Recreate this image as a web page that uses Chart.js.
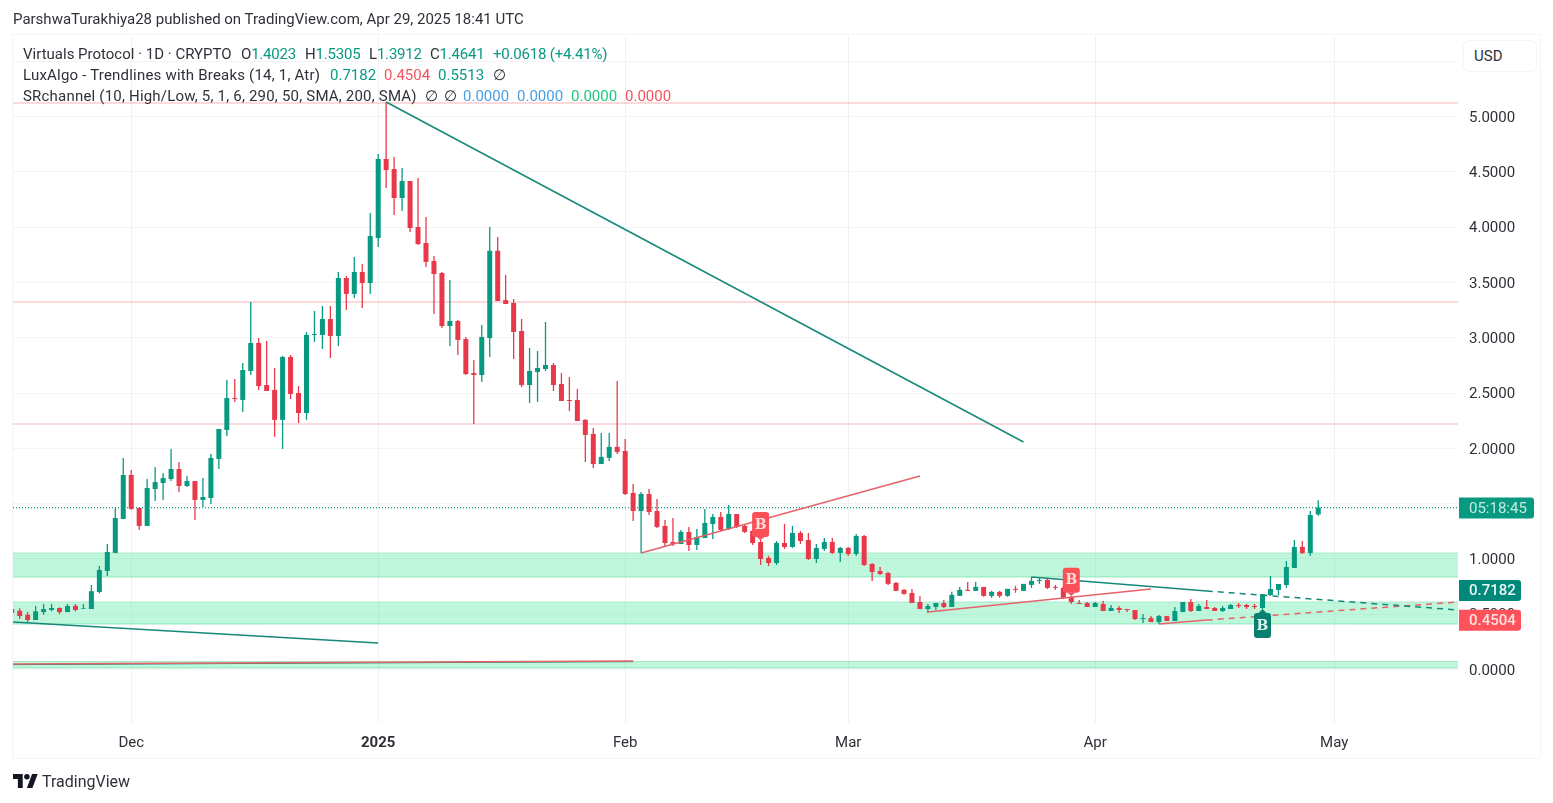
<!DOCTYPE html>
<html>
<head>
<meta charset="utf-8">
<title>Virtuals Protocol</title>
<script src="https://cdn.jsdelivr.net/npm/chart.js@4/dist/chart.umd.min.js"></script>
<style>
  html, body { margin: 0; padding: 0; background: #fff; }
  body { width: 1553px; height: 803px; position: relative; overflow: hidden; font-family: Roboto, sans-serif; color: #2e3138; }
  canvas { position: absolute; left: 0; top: 0; }
  .frame { position: absolute; left: 12px; top: 34px; width: 1527px; height: 723px; border: 1px solid #f3f4f6; }
  .t { position: absolute; font-size: 15px; line-height: 18px; white-space: nowrap; }
  .w { letter-spacing: 0.2px; }
  .n { letter-spacing: -0.2px; }
  .g { color: #089981; } .r { color: #f2545f; } .b { color: #4a9fe3; } .m { color: #1fc77f; }
  .usd { position: absolute; left: 1463px; top: 40px; width: 72px; height: 30px; border: 1px solid #f3f4f6; border-radius: 6px; font-size: 15px; line-height: 30px; text-indent: 10px; background: #fff; }
  .logo { position: absolute; left: 13px; top: 774px; }
</style>
</head>
<body>
<div class="frame"></div>
<canvas id="candles" width="1553" height="803"></canvas>

<div class="t" style="left:13px;top:10px">ParshwaTurakhiya28 published on TradingView.com, Apr 29, 2025 18:41 UTC</div>

<div class="t" style="left:23px;top:45px">Virtuals Protocol · 1D · CRYPTO</div>
<div class="t n" style="left:241px;top:45px">O<span class="g">1.4023</span></div>
<div class="t n" style="left:305px;top:45px">H<span class="g">1.5305</span></div>
<div class="t n" style="left:369px;top:45px">L<span class="g">1.3912</span></div>
<div class="t n" style="left:430px;top:45px">C<span class="g">1.4641</span></div>
<div class="t g n" style="left:493px;top:45px">+0.0618 (+4.41%)</div>

<div class="t w" style="left:23px;top:66px">LuxAlgo - Trendlines with Breaks (14, 1, Atr)</div>
<div class="t g" style="left:330px;top:66px">0.7182</div>
<div class="t r" style="left:384px;top:66px">0.4504</div>
<div class="t g" style="left:438px;top:66px">0.5513</div>
<div class="t" style="left:493px;top:66px">∅</div>

<div class="t w" style="left:23px;top:87px">SRchannel (10, High/Low, 5, 1, 6, 290, 50, SMA, 200, SMA)</div>
<div class="t" style="left:425px;top:87px">∅</div>
<div class="t" style="left:444px;top:87px">∅</div>
<div class="t b" style="left:463px;top:87px">0.0000</div>
<div class="t b" style="left:517px;top:87px">0.0000</div>
<div class="t m" style="left:571px;top:87px">0.0000</div>
<div class="t r" style="left:625px;top:87px">0.0000</div>

<div class="usd">USD</div>

<svg class="logo" width="25" height="14" viewBox="0 0 36 20"><path fill="#131722" d="M14 20H7V7H0V0h14v20zM28 20h-8L27.500 0h8L28 20z"/><circle fill="#131722" cx="20" cy="4" r="4"/></svg>
<div class="t" style="left:42px;top:772px;font-size:16px;line-height:20px">TradingView</div>

<script>
// x axis is days counted from Dec 1 2024
const firstDay = -15;
const tickDays = [0, 31, 62, 90, 121, 151];
const tickLabels = ['Dec', '2025', 'Feb', 'Mar', 'Apr', 'May'];
const priceTicks = [0, 0.5, 1, 1.5, 2, 2.5, 3, 3.5, 4, 4.5, 5, 5.5];

const opens = [
  0.547, 0.531, 0.495, 0.447, 0.519, 0.538, 0.556, 0.519, 0.576, 0.547,
  0.547, 0.701, 0.891, 1.054, 1.361, 1.759, 1.461, 1.298, 1.632, 1.686,
  1.722, 1.813, 1.659, 1.704, 1.533, 1.551, 1.904, 2.166, 2.455, 2.437,
  2.699, 2.952, 2.572, 2.527, 2.257, 2.826, 2.500, 2.319, 3.025, 3.025,
  3.169, 3.016, 3.540, 3.396, 3.594, 3.495, 3.901, 4.616, 4.525, 4.263,
  4.417, 4.001, 3.856, 3.694, 3.585, 3.106, 3.151, 2.988, 2.681, 2.663,
  2.997, 3.786, 3.341, 3.314, 3.061, 2.572, 2.690, 2.717, 2.753, 2.581,
  2.437, 2.437, 2.257, 2.130, 1.858, 1.913, 2.013, 1.976, 1.596, 1.433,
  1.587, 1.433, 1.298, 1.153, 1.135, 1.244, 1.126, 1.189, 1.316, 1.379,
  1.271, 1.406, 1.298, 1.253, 1.153, 1.009, 0.963, 1.144, 1.108, 1.235,
  1.171, 0.999, 1.090, 1.153, 1.054, 1.099, 1.045, 1.207, 0.954, 0.891,
  0.873, 0.783, 0.720, 0.692, 0.610, 0.547, 0.565, 0.601, 0.565, 0.666,
  0.720, 0.711, 0.747, 0.666, 0.702, 0.666, 0.729, 0.711, 0.765, 0.801,
  0.810, 0.747, 0.738, 0.657, 0.601, 0.601, 0.565, 0.592, 0.529, 0.556,
  0.547, 0.538, 0.456, 0.465, 0.429, 0.483, 0.438, 0.519, 0.610, 0.529,
  0.565, 0.556, 0.529, 0.547, 0.583, 0.583, 0.574, 0.556, 0.673, 0.719,
  0.764, 0.918, 1.108, 1.054, 1.4023
];
const highs = [
  0.556, 0.553, 0.519, 0.574, 0.592, 0.592, 0.562, 0.592, 0.592, 0.592,
  0.765, 0.936, 1.135, 1.461, 1.913, 1.804, 1.461, 1.722, 1.831, 1.777,
  1.994, 1.876, 1.750, 1.704, 1.731, 1.949, 2.175, 2.618, 2.627, 2.771,
  3.323, 2.997, 2.970, 2.726, 2.835, 2.844, 2.563, 3.052, 3.242, 3.287,
  3.287, 3.594, 3.558, 3.729, 3.666, 4.127, 4.661, 5.131, 4.634, 4.534,
  4.417, 4.444, 4.091, 3.739, 3.594, 3.522, 3.160, 3.007, 2.798, 3.115,
  4.001, 3.910, 3.567, 3.350, 3.169, 2.907, 2.879, 3.142, 2.771, 2.681,
  2.645, 2.536, 2.266, 2.184, 2.139, 2.139, 2.609, 2.085, 1.677, 1.605,
  1.632, 1.542, 1.352, 1.370, 1.262, 1.289, 1.271, 1.452, 1.406, 1.424,
  1.487, 1.406, 1.316, 1.262, 1.171, 1.027, 1.162, 1.316, 1.298, 1.253,
  1.235, 1.135, 1.189, 1.189, 1.108, 1.108, 1.226, 1.216, 0.963, 0.927,
  0.882, 0.792, 0.729, 0.729, 0.664, 0.592, 0.601, 0.628, 0.702, 0.747,
  0.792, 0.792, 0.747, 0.711, 0.711, 0.729, 0.756, 0.774, 0.837, 0.828,
  0.819, 0.765, 0.756, 0.666, 0.628, 0.610, 0.610, 0.619, 0.583, 0.574,
  0.547, 0.538, 0.501, 0.483, 0.492, 0.483, 0.565, 0.610, 0.637, 0.592,
  0.628, 0.565, 0.574, 0.592, 0.601, 0.592, 0.592, 0.682, 0.846, 0.773,
  0.981, 1.171, 1.162, 1.433, 1.5305
];
const lows = [
  0.502, 0.456, 0.429, 0.447, 0.495, 0.526, 0.501, 0.519, 0.526, 0.547,
  0.547, 0.689, 0.846, 1.054, 1.361, 1.443, 1.262, 1.298, 1.524, 1.533,
  1.704, 1.605, 1.650, 1.352, 1.470, 1.497, 1.813, 2.112, 2.419, 2.328,
  2.663, 2.527, 2.518, 2.103, 1.994, 2.446, 2.229, 2.257, 2.961, 2.898,
  2.817, 2.925, 3.251, 3.359, 3.269, 3.396, 3.820, 4.353, 4.109, 4.145,
  3.956, 3.838, 3.640, 3.214, 3.088, 2.925, 2.844, 2.663, 2.220, 2.600,
  2.826, 3.332, 3.305, 2.808, 2.554, 2.410, 2.419, 2.699, 2.518, 2.428,
  2.337, 2.247, 1.876, 1.822, 1.858, 1.885, 1.949, 1.578, 1.343, 1.054,
  1.397, 1.280, 1.108, 1.117, 1.135, 1.072, 1.081, 1.189, 1.180, 1.253,
  1.262, 1.280, 1.235, 1.126, 0.945, 0.936, 0.945, 1.090, 1.099, 1.135,
  0.990, 0.963, 1.072, 1.045, 0.972, 1.027, 1.027, 0.936, 0.801, 0.855,
  0.765, 0.711, 0.675, 0.601, 0.547, 0.510, 0.538, 0.556, 0.565, 0.666,
  0.711, 0.711, 0.657, 0.648, 0.648, 0.657, 0.693, 0.711, 0.738, 0.774,
  0.729, 0.720, 0.639, 0.592, 0.592, 0.565, 0.565, 0.529, 0.529, 0.510,
  0.519, 0.447, 0.420, 0.429, 0.411, 0.438, 0.438, 0.519, 0.519, 0.529,
  0.547, 0.529, 0.519, 0.547, 0.556, 0.547, 0.547, 0.547, 0.665, 0.673,
  0.737, 0.918, 1.045, 1.027, 1.3912
];
const closes = [
  0.511, 0.483, 0.447, 0.526, 0.547, 0.556, 0.519, 0.574, 0.538, 0.553,
  0.708, 0.900, 1.063, 1.370, 1.759, 1.452, 1.298, 1.641, 1.695, 1.731,
  1.813, 1.659, 1.704, 1.533, 1.560, 1.913, 2.175, 2.455, 2.446, 2.708,
  2.952, 2.563, 2.518, 2.257, 2.826, 2.491, 2.319, 3.025, 3.034, 3.169,
  3.016, 3.540, 3.396, 3.594, 3.495, 3.920, 4.616, 4.516, 4.263, 4.417,
  3.992, 3.847, 3.685, 3.576, 3.106, 3.151, 2.980, 2.672, 2.663, 3.007,
  3.786, 3.332, 3.305, 3.052, 2.572, 2.699, 2.726, 2.753, 2.572, 2.428,
  2.428, 2.247, 2.121, 1.858, 1.922, 2.013, 1.967, 1.587, 1.433, 1.587,
  1.424, 1.289, 1.144, 1.135, 1.244, 1.126, 1.198, 1.325, 1.379, 1.262,
  1.406, 1.289, 1.244, 1.144, 0.999, 0.963, 1.144, 1.108, 1.235, 1.162,
  0.999, 1.099, 1.153, 1.054, 1.099, 1.045, 1.207, 0.945, 0.882, 0.864,
  0.774, 0.711, 0.684, 0.601, 0.547, 0.574, 0.601, 0.565, 0.675, 0.720,
  0.711, 0.747, 0.666, 0.702, 0.666, 0.729, 0.720, 0.774, 0.801, 0.810,
  0.738, 0.738, 0.648, 0.610, 0.592, 0.565, 0.601, 0.529, 0.556, 0.538,
  0.538, 0.456, 0.465, 0.429, 0.483, 0.438, 0.529, 0.610, 0.529, 0.574,
  0.547, 0.529, 0.556, 0.583, 0.574, 0.565, 0.565, 0.682, 0.728, 0.773,
  0.927, 1.108, 1.054, 1.397, 1.4641
];

const levelPrices = [5.122, 3.323, 2.220];
const zoneTops = [1.053, 0.610, 0.072];
const zoneBottoms = [0.836, 0.411, 0.014];

const downMainDays = [32, 112], downMainPrices = [5.131, 2.057];
const upMainDays = [64, 99], upMainPrices = [1.054, 1.750];
const downLowDays = [-14.84, 31], downLowPrices = [0.429, 0.240];
const upLowDays = [-14.84, 63], upLowPrices = [0.050, 0.077];
const upMidDays = [100, 128], upMidPrices = [0.520, 0.728];
const downMidDays = [113, 135], downMidPrices = [0.837, 0.710];
const downDashDays = [135, 166.54], downDashPrices = [0.710, 0.538];
const upEndDays = [129, 135], upEndPrices = [0.411, 0.447];
const upDashDays = [135, 166.54], upDashPrices = [0.447, 0.610];

const lastPrice = 1.4641;
const sellBadgeDays = [79, 118];
const buyBadgeDays = [142];

const xMin = -14.84, xMax = 166.54;
const yMin = -0.4837, yMax = 5.728;
const green = '#089981', red = '#e8394a';
const trendGreen = '#14897a', trendRed = '#e5646a';

function zip(xs, ys) { return xs.map((x, i) => ({x: x, y: ys[i]})); }

function lineSet(xs, ys, color, width, order, dash) {
  return {
    type: 'line', data: zip(xs, ys), borderColor: color, borderWidth: width,
    borderDash: dash || [], pointRadius: 0, tension: 0, fill: false, order: order
  };
}

const candleDays = opens.map((o, i) => firstDay + i);
const candleColors = opens.map((o, i) => closes[i] >= o ? green : red);

const datasets = [];

zoneTops.forEach((top, i) => {
  const band = lineSet([xMin, xMax], [top, top], '#a9e9c8', 1, 20);
  band.fill = '+1';
  band.backgroundColor = 'rgba(0, 222, 118, 0.25)';
  datasets.push(band);
  datasets.push(lineSet([xMin, xMax], [zoneBottoms[i], zoneBottoms[i]], '#a9e9c8', 1, 20));
});

levelPrices.forEach(p => {
  datasets.push(lineSet([xMin, xMax], [p, p], 'rgba(242, 54, 69, 0.19)', 2, 15));
});

datasets.push(lineSet([xMin, xMax], [lastPrice, lastPrice], '#0a9a80', 1.2, 12, [1, 2]));

datasets.push({
  type: 'bar', data: candleDays.map((d, i) => ({x: d, y: [lows[i], highs[i]]})),
  backgroundColor: candleColors, grouped: false, barPercentage: 1, categoryPercentage: 1,
  maxBarThickness: 1.3, inflateAmount: 0, order: 8
});
datasets.push({
  type: 'bar', data: candleDays.map((d, i) => ({x: d, y: [opens[i], closes[i]]})),
  backgroundColor: candleColors, grouped: false, barPercentage: 1, categoryPercentage: 1,
  maxBarThickness: 5, inflateAmount: 0, order: 7
});

datasets.push(lineSet(downMainDays, downMainPrices, trendGreen, 1.5, 3));
datasets.push(lineSet(upMainDays, upMainPrices, trendRed, 1.5, 3));
datasets.push(lineSet(downLowDays, downLowPrices, trendGreen, 1.5, 3));
datasets.push(lineSet(upLowDays, upLowPrices.map(p => p - 0.006), trendGreen, 1, 4));
datasets.push(lineSet(upLowDays, upLowPrices, trendRed, 1.5, 3));
datasets.push(lineSet(upMidDays, upMidPrices, trendRed, 1.5, 3));
datasets.push(lineSet(downMidDays, downMidPrices, trendGreen, 1.5, 3));
datasets.push(lineSet(downDashDays, downDashPrices, trendGreen, 1.5, 3, [6, 5]));
datasets.push(lineSet(upEndDays, upEndPrices, trendRed, 1.5, 3));
datasets.push(lineSet(upDashDays, upDashPrices, trendRed, 1.5, 3, [6, 5]));

// B markers on the candles, tag position comes from the candle high/low
const badgePlugin = {
  id: 'badges',
  afterDatasetsDraw(chart) {
    const {ctx, scales: {x, y}} = chart;
    const draw = (day, sell) => {
      const i = day - firstDay;
      const cx = x.getPixelForValue(day);
      const tip = sell ? y.getPixelForValue(highs[i]) : y.getPixelForValue(lows[i]);
      const top = sell ? tip - 28 : tip + 4;
      ctx.save();
      ctx.fillStyle = sell ? '#fb5058' : '#08806f';
      ctx.beginPath();
      ctx.roundRect(cx - 8.500, top, 17, 25, 3);
      ctx.fill();
      ctx.beginPath();
      if (sell) { ctx.moveTo(cx - 4, top + 25); ctx.lineTo(cx, tip); ctx.lineTo(cx + 4, top + 25); }
      else { ctx.moveTo(cx - 4, top); ctx.lineTo(cx, tip); ctx.lineTo(cx + 4, top); }
      ctx.fill();
      ctx.fillStyle = sell ? '#ffdcdc' : '#d8f3ec';
      ctx.font = 'bold 14px "DejaVu Serif"';
      ctx.textAlign = 'center';
      ctx.textBaseline = 'middle';
      ctx.fillText('B', cx, top + 13);
      ctx.restore();
    };
    sellBadgeDays.forEach(d => draw(d, true));
    buyBadgeDays.forEach(d => draw(d, false));
  }
};

// coloured price tags over the right axis
const axisTagValues = [lastPrice, 0.7182, 0.4504];
const axisTagTexts = ['05:18:45', '0.7182', '0.4504'];
const axisTagColors = ['#089981', '#00897b', '#fd5259'];
const axisTagInk = ['#c5ece2', '#e8f7f4', '#ffe3e3'];
const axisTagWidths = [75, 62, 62];

const axisTagPlugin = {
  id: 'axisTags',
  afterDraw(chart) {
    const {ctx, chartArea, scales: {y}} = chart;
    axisTagValues.forEach((v, i) => {
      const py = y.getPixelForValue(v);
      const left = chartArea.right + 1;
      ctx.save();
      ctx.fillStyle = axisTagColors[i];
      ctx.beginPath();
      ctx.roundRect(left, py - 10, axisTagWidths[i], 21, [0, 3, 3, 0]);
      ctx.fill();
      ctx.fillStyle = axisTagInk[i];
      ctx.font = (i === 0 ? '' : '500 ') + '15px Roboto';
      ctx.textBaseline = 'middle';
      ctx.textAlign = 'left';
      ctx.fillText(axisTagTexts[i], left + 10, py + 1.500);
      ctx.restore();
    });
  }
};

new Chart(document.getElementById('candles'), {
  data: {datasets: datasets},
  plugins: [badgePlugin, axisTagPlugin],
  options: {
    responsive: false,
    animation: false,
    events: [],
    layout: {padding: {left: 13, top: 36, right: 13, bottom: 45}},
    plugins: {legend: {display: false}, tooltip: {enabled: false}},
    scales: {
      x: {
        type: 'linear', min: xMin, max: xMax, offset: false,
        afterBuildTicks(axis) { axis.ticks = tickDays.map(d => ({value: d})); },
        afterFit(axis) { axis.height = 35; },
        grid: {color: '#f0f1f4', drawTicks: false, offset: false},
        border: {display: false},
        ticks: {
          autoSkip: false, maxRotation: 0, padding: 11, color: '#2e3138',
          font: ctx => ({family: 'Roboto', size: 15, weight: ctx.tick && ctx.tick.value === 31 ? 'bold' : 'normal'}),
          callback: value => tickLabels[tickDays.indexOf(value)]
        }
      },
      y: {
        type: 'linear', position: 'right', min: yMin, max: yMax,
        afterBuildTicks(axis) { axis.ticks = priceTicks.map(v => ({value: v})); },
        afterFit(axis) { axis.width = 82; },
        grid: {color: '#f3f4f6', drawTicks: false},
        border: {display: false},
        ticks: {
          autoSkip: false, padding: 11, color: '#2e3138', align: 'center', crossAlign: 'near',
          // empty first line with a small line height nudges the text down to sit on the gridline
          font: {family: 'Roboto', size: 15, lineHeight: '3px'},
          callback: value => value > 5 ? '' : ['', value.toFixed(4)]
        }
      }
    }
  }
});
</script>
</body>
</html>
